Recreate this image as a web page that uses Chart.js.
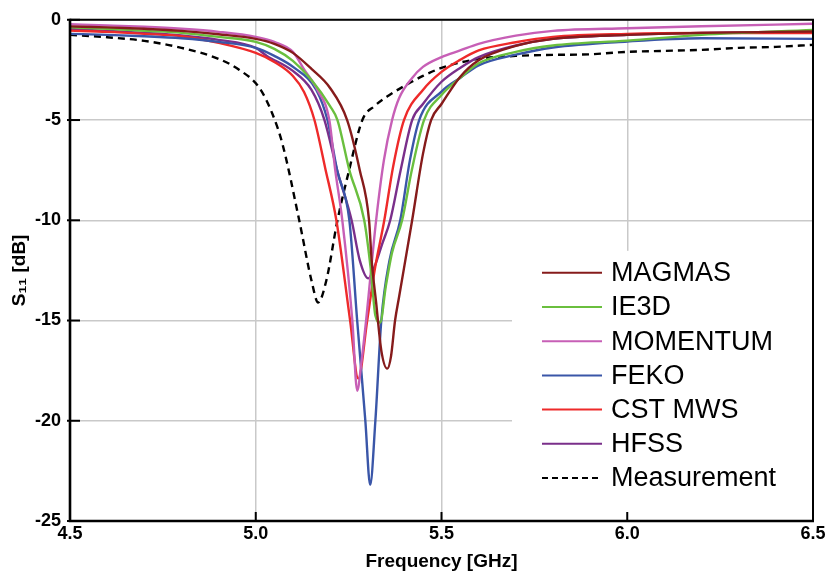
<!DOCTYPE html>
<html>
<head>
<meta charset="utf-8">
<script src="https://cdn.jsdelivr.net/npm/chart.js@4.4.1/dist/chart.umd.min.js"></script>
<style>
  html, body { margin: 0; padding: 0; background: #fff; }
</style>
</head>
<body>
<canvas id="s11Chart" width="828" height="574"></canvas>
<script>
// S11 curves: frequency in GHz, S11 in dB
const magmasFreq = [4.5, 4.6, 4.7, 4.8, 4.9, 5.0, 5.05, 5.1, 5.15, 5.2, 5.246, 5.28, 5.305, 5.312, 5.324, 5.338, 5.354, 5.364, 5.375, 5.386, 5.421, 5.45, 5.472, 5.5, 5.55, 5.6, 5.7, 5.8, 6.0, 6.2, 6.5];
const magmasS11 = [-0.33, -0.38, -0.45, -0.55, -0.72, -0.95, -1.2, -1.65, -2.45, -3.4, -5.0, -7.5, -10.0, -12.0, -14.1, -16.5, -17.4, -16.8, -15.0, -13.8, -10.0, -6.7, -5.0, -4.2, -2.85, -2.02, -1.3, -0.95, -0.75, -0.65, -0.58];

const ie3dFreq = [4.5, 4.6, 4.7, 4.8, 4.9, 5.0, 5.05, 5.1, 5.15, 5.2, 5.22, 5.252, 5.292, 5.31, 5.322, 5.335, 5.35, 5.367, 5.394, 5.42, 5.453, 5.5, 5.55, 5.6, 5.7, 5.8, 6.0, 6.2, 6.5];
const ie3dS11 = [-0.38, -0.45, -0.55, -0.65, -0.85, -1.1, -1.45, -2.05, -3.0, -4.3, -5.0, -7.5, -10.0, -12.5, -14.75, -15.1, -13.3, -11.6, -10.0, -7.5, -5.0, -3.75, -2.9, -2.17, -1.6, -1.28, -1.04, -0.75, -0.5];

const momentumFreq = [4.5, 4.6, 4.7, 4.8, 4.9, 5.0, 5.05, 5.1, 5.131, 5.166, 5.198, 5.214, 5.233, 5.26, 5.273, 5.285, 5.297, 5.324, 5.345, 5.367, 5.386, 5.421, 5.45, 5.5, 5.55, 5.6, 5.7, 5.8, 6.0, 6.2, 6.5];
const momentumS11 = [-0.22, -0.28, -0.35, -0.45, -0.6, -0.85, -1.1, -1.6, -2.5, -3.5, -5.0, -7.5, -10.0, -15.0, -18.5, -17.0, -15.0, -10.0, -7.0, -5.0, -3.9, -2.9, -2.35, -1.86, -1.53, -1.2, -0.79, -0.55, -0.42, -0.32, -0.2];

const fekoFreq = [4.5, 4.6, 4.7, 4.8, 4.9, 5.0, 5.05, 5.104, 5.163, 5.193, 5.219, 5.252, 5.273, 5.295, 5.308, 5.322, 5.338, 5.36, 5.389, 5.415, 5.44, 5.5, 5.55, 5.6, 5.7, 5.8, 6.0, 6.2, 6.5];
const fekoS11 = [-0.7, -0.75, -0.82, -0.92, -1.1, -1.4, -1.8, -2.4, -3.5, -5.0, -7.5, -10.0, -15.0, -20.0, -23.2, -20.0, -15.0, -12.0, -10.0, -7.0, -5.0, -3.58, -2.9, -2.27, -1.74, -1.38, -1.08, -0.92, -0.95];

const cstFreq = [4.5, 4.6, 4.7, 4.8, 4.9, 5.0, 5.05, 5.1, 5.13, 5.158, 5.187, 5.217, 5.254, 5.276, 5.3, 5.32, 5.346, 5.37, 5.399, 5.45, 5.5, 5.55, 5.6, 5.7, 5.8, 6.0, 6.2, 6.5];
const cstS11 = [-0.54, -0.6, -0.7, -0.82, -1.15, -1.65, -2.1, -2.8, -3.6, -5.0, -7.4, -10.0, -15.0, -17.9, -15.0, -12.5, -10.0, -7.3, -5.0, -3.5, -2.6, -2.0, -1.53, -1.12, -0.85, -0.7, -0.66, -0.66];

const hfssFreq = [4.5, 4.6, 4.7, 4.8, 4.9, 5.0, 5.03, 5.096, 5.15, 5.185, 5.219, 5.258, 5.28, 5.303, 5.32, 5.34, 5.362, 5.39, 5.421, 5.45, 5.5, 5.55, 5.6, 5.7, 5.8, 6.0, 6.2, 6.5];
const hfssS11 = [-0.46, -0.55, -0.65, -0.78, -1.0, -1.4, -1.8, -2.5, -3.5, -5.0, -7.5, -10.0, -12.0, -12.9, -12.3, -11.2, -10.0, -7.5, -5.0, -4.2, -3.09, -2.4, -1.86, -1.28, -0.95, -0.75, -0.65, -0.58];

const measFreq = [4.5, 4.6, 4.7, 4.8, 4.9, 4.956, 5.01, 5.045, 5.072, 5.117, 5.15, 5.168, 5.19, 5.22, 5.25, 5.287, 5.32, 5.36, 5.4, 5.45, 5.5, 5.6, 5.7, 5.8, 5.9, 6.0, 6.1, 6.2, 6.3, 6.4, 6.5];
const measS11 = [-0.75, -0.87, -1.05, -1.4, -1.95, -2.5, -3.4, -4.7, -6.2, -10.0, -13.0, -14.1, -13.0, -10.0, -7.6, -5.0, -4.3, -3.75, -3.3, -2.8, -2.4, -1.95, -1.8, -1.75, -1.72, -1.6, -1.55, -1.5, -1.4, -1.35, -1.25];

const seriesNames = ['MAGMAS', 'IE3D', 'MOMENTUM', 'FEKO', 'CST MWS', 'HFSS', 'Measurement'];
const seriesColors = ['#861b1b', '#6abf3e', '#c75fb6', '#3a56a8', '#ee2a2a', '#7a2f8a', '#000000'];
const xTicks = [4.5, 5.0, 5.5, 6.0, 6.5];
const yTicks = [0, -5, -10, -15, -20, -25];

const freqs = [magmasFreq, ie3dFreq, momentumFreq, fekoFreq, cstFreq, hfssFreq, measFreq];
const values = [magmasS11, ie3dS11, momentumS11, fekoS11, cstS11, hfssS11, measS11];

const toPoints = (f, s) => f.map((v, i) => ({ x: v, y: s[i] }));

const datasets = seriesNames.map((name, i) => ({
  label: name,
  data: toPoints(freqs[i], values[i]),
  borderColor: seriesColors[i],
  borderWidth: 2.4,
  borderDash: name === 'Measurement' ? [7, 5] : [],
  pointRadius: 0,
  fill: false,
  cubicInterpolationMode: 'monotone',
}));

const tickFont = { family: 'Liberation Sans', size: 18, weight: 'bold' };
const titleFont = { family: 'Liberation Sans', size: 19, weight: 'bold' };

// legend inside the plot, frame and inward ticks
const framePlugin = {
  id: 'frame',
  afterDatasetsDraw(chart) {
    const { ctx, chartArea: a } = chart;
    ctx.save();
    ctx.fillStyle = '#fff';
    ctx.fillRect(a.right - 301, a.top + 231, 301, a.bottom - a.top - 231);
    ctx.font = '27px "Liberation Sans"';
    ctx.textBaseline = 'middle';
    ctx.fillStyle = '#000';
    chart.data.datasets.forEach((ds, i) => {
      const y = a.top + 253 + i * 34.2;
      ctx.strokeStyle = ds.borderColor;
      ctx.lineWidth = 2;
      ctx.setLineDash(ds.label === 'Measurement' ? [6, 4] : []);
      ctx.beginPath();
      ctx.moveTo(a.right - 271, y);
      ctx.lineTo(a.right - 211, y);
      ctx.stroke();
      ctx.fillText(ds.label, a.right - 202, y + 1);
    });
    ctx.restore();
  },
  afterDraw(chart) {
    const { ctx, chartArea: a, scales } = chart;
    ctx.save();
    ctx.setLineDash([]);
    ctx.strokeStyle = '#000';
    ctx.lineWidth = 2;
    ctx.beginPath();
    ctx.moveTo(a.left, a.top);
    ctx.lineTo(a.right, a.top);
    ctx.lineTo(a.right, a.bottom);
    ctx.stroke();
    ctx.lineWidth = 2.6;
    ctx.beginPath();
    ctx.moveTo(a.left, a.top - 1);
    ctx.lineTo(a.left, a.bottom);
    ctx.lineTo(a.right + 1, a.bottom);
    ctx.stroke();
    ctx.lineWidth = 2;
    xTicks.forEach(v => {
      const x = scales.x.getPixelForValue(v);
      ctx.beginPath();
      ctx.moveTo(x, a.bottom);
      ctx.lineTo(x, a.bottom - 9);
      ctx.stroke();
    });
    yTicks.forEach(v => {
      const y = scales.y.getPixelForValue(v);
      ctx.beginPath();
      ctx.moveTo(a.left - 3, y);
      ctx.lineTo(a.left + 10, y);
      ctx.stroke();
    });
    ctx.restore();
  }
};

new Chart(document.getElementById('s11Chart').getContext('2d'), {
  type: 'line',
  data: { datasets: datasets },
  options: {
    responsive: false,
    animation: false,
    layout: { padding: { top: 14, right: 15, bottom: 0, left: 0 } },
    plugins: {
      legend: { display: false },
      tooltip: { enabled: false },
    },
    scales: {
      x: {
        type: 'linear',
        min: 4.5,
        max: 6.5,
        afterBuildTicks: scale => { scale.ticks = xTicks.map(v => ({ value: v })); },
        afterFit: scale => { scale.height = 53; },
        ticks: {
          callback: v => v.toFixed(1),
          font: tickFont,
          color: '#000',
          padding: 2,
          maxRotation: 0,
          autoSkip: false,
        },
        grid: { color: '#c9c9c9', lineWidth: 1.5, drawTicks: false },
        border: { display: false },
        title: {
          display: true,
          text: 'Frequency [GHz]',
          font: titleFont,
          color: '#000',
          padding: { top: 0, bottom: 1 },
        },
      },
      y: {
        min: -25,
        max: 0,
        afterBuildTicks: scale => { scale.ticks = yTicks.map(v => ({ value: v })); },
        afterFit: scale => { scale.width = 70; },
        ticks: {
          font: tickFont,
          color: '#000',
          padding: 9,
        },
        grid: { color: '#c9c9c9', lineWidth: 1.5, drawTicks: false },
        border: { display: false },
        title: {
          display: true,
          text: 'S\u2081\u2081 [dB]',
          font: titleFont,
          color: '#000',
          padding: { top: 8, bottom: 0 },
        },
      },
    },
  },
  plugins: [framePlugin],
});
</script>
</body>
</html>
